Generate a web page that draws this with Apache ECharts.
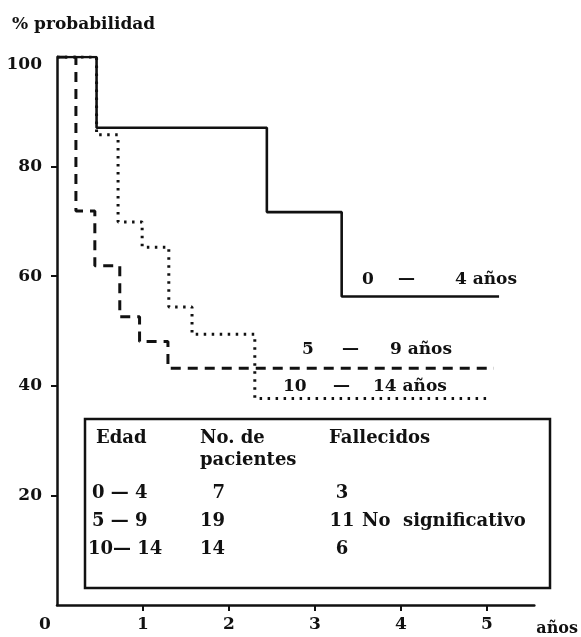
<!DOCTYPE html>
<html><head><meta charset="utf-8">
<script src="https://cdn.jsdelivr.net/npm/echarts@6/dist/echarts.min.js"></script>
<style>html,body{margin:0;padding:0;background:#fff}#c{width:581px;height:637px}</style>
</head><body><div id="c"></div>
<script>
const FONT = '"DejaVu Serif", serif';
const xLabels = [0, 1, 2, 3, 4, 5];
const xTickVals = [1, 2, 3, 4, 5];
const yLabels = [20, 40, 60, 80, 100];
const yTickVals = [20, 40, 60, 80];
// Kaplan-Meier curves (years, % probability)
const solidTime = [0, 0.46, 2.44, 3.31, 5.14];
const solidSurv = [100, 87.1, 71.7, 56.3, 56.3];
const dashTime = [0, 0.22, 0.44, 0.73, 0.96, 1.29, 5.08];
const dashSurv = [100, 71.9, 61.9, 52.6, 48.1, 43.2, 43.2];
const dotTime = [0, 0.46, 0.71, 0.99, 1.30, 1.57, 2.30, 5.02];
const dotSurv = [100, 85.8, 69.9, 65.3, 54.4, 49.4, 37.7, 37.7];
// curve labels
const groupFrom = ['0', '5', '10'];
const groupTo = ['4 años', '9 años', '14 años'];
// table
const ageGroups = ['0 — 4', '5 — 9', '10— 14'];
const patients = [7, 19, 14];
const deaths = [3, 11, 6];
const note = 'No  significativo';

const chart = echarts.init(document.getElementById('c'), null, {renderer: 'canvas'});
const ink = '#111';
const pairs = (t, s) => t.map((v, i) => [v, s[i]]);
const txt = (text, x, y, opt) => ({
  type: 'text', x: x, y: y, z: 10,
  style: Object.assign({text: text, fill: ink, font: 'bold 18px ' + FONT, textVerticalAlign: 'middle', textAlign: 'left'}, opt || {})
});
const f17 = {font: 'bold 17px ' + FONT};

const graphics = [
  txt('% probabilidad', 12, 25, f17),
  {type: 'rect', z: 5, shape: {x: 85, y: 419, width: 465, height: 169},
   style: {fill: 'rgba(0,0,0,0)', stroke: ink, lineWidth: 2.5}}
];
// curve labels: number, dash, upper bound
const labPos = [[362, 398, 455, 280], [302, 342, 390, 350], [283, 333, 373, 387]];
labPos.forEach((p, i) => {
  graphics.push(txt(groupFrom[i], p[0], p[3], f17));
  graphics.push(txt('—', p[1], p[3], f17));
  graphics.push(txt(groupTo[i], p[2], p[3], f17));
});
graphics.push(txt('Edad', 96, 438));
graphics.push(txt('No. de', 200, 438));
graphics.push(txt('pacientes', 200, 460));
graphics.push(txt('Fallecidos', 329, 438));
const rowY = [493, 521, 549];
ageGroups.forEach((g, i) => {
  graphics.push(txt(g, i === 2 ? 88 : 92, rowY[i]));
  graphics.push(txt(String(patients[i]), 225, rowY[i], {textAlign: 'right'}));
  graphics.push(txt(String(deaths[i]), 342, rowY[i], {textAlign: 'center'}));
});
graphics.push(txt(note, 362, rowY[1]));

const lineBase = {type: 'line', step: 'end', symbol: 'none', silent: true};
const lab = {color: ink, fontFamily: FONT, fontWeight: 'bold', fontSize: 17};

chart.setOption({
  animation: false,
  backgroundColor: '#fff',
  grid: {left: 57, top: 57, right: 46, bottom: 29, containLabel: false},
  xAxis: {
    type: 'value', min: 0, max: 5.55,
    name: 'años', nameLocation: 'end', nameGap: 2,
    nameTextStyle: {color: ink, fontFamily: FONT, fontWeight: 'bold', fontSize: 16, verticalAlign: 'top', padding: [16, 0, 0, 0]},
    axisLine: {lineStyle: {color: ink, width: 2.5}},
    axisTick: {show: true, length: 6, inside: false, customValues: xTickVals, lineStyle: {color: ink, width: 2}},
    splitLine: {show: false},
    axisLabel: Object.assign({
      customValues: xLabels, margin: 11,
      formatter: v => v === 0 ? '{z|0}' : String(v),
      rich: {z: Object.assign({padding: [0, 24, 0, 0]}, lab)}
    }, lab)
  },
  yAxis: {
    type: 'value', min: 0, max: 100, interval: 20,
    axisLine: {show: true, lineStyle: {color: ink, width: 2.5}},
    axisTick: {show: true, length: 6, customValues: yTickVals, lineStyle: {color: ink, width: 2}},
    splitLine: {show: false},
    axisLabel: Object.assign({
      customValues: yLabels, margin: 15,
      formatter: v => v === 100 ? '{h|100}' : String(v),
      rich: {h: Object.assign({padding: [16, 0, 0, 0]}, lab)}
    }, lab)
  },
  series: [
    Object.assign({}, lineBase, {name: '0-4', data: pairs(solidTime, solidSurv), z: 4,
      lineStyle: {color: ink, width: 2.6, type: 'solid'}}),
    Object.assign({}, lineBase, {name: '5-9', data: pairs(dashTime, dashSurv), z: 3,
      lineStyle: {color: ink, width: 3, type: [10, 7]}}),
    Object.assign({}, lineBase, {name: '10-14', data: pairs(dotTime, dotSurv), z: 3,
      lineStyle: {color: ink, width: 3, type: [2.5, 5.5]}})
  ],
  graphic: graphics
});
</script></body></html>
